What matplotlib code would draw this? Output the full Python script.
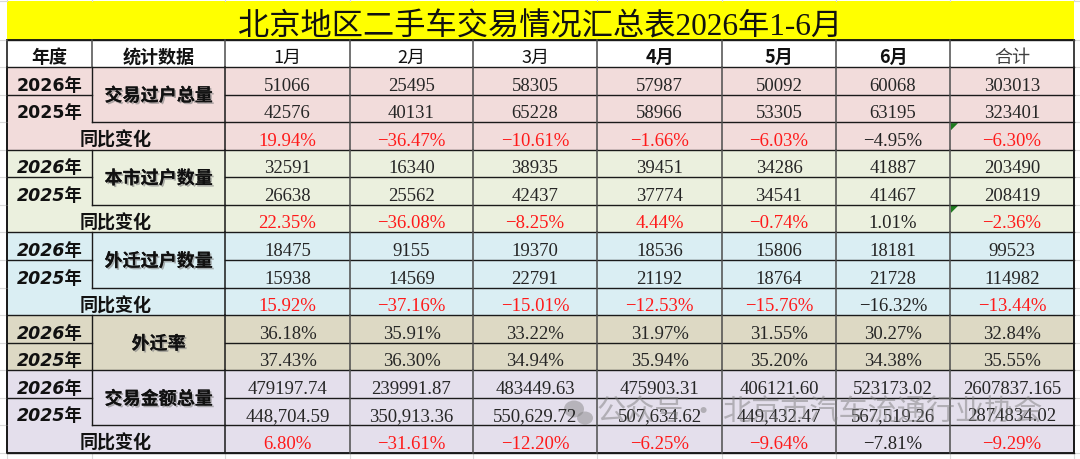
import matplotlib
matplotlib.use('Agg')
import matplotlib.pyplot as plt
from matplotlib.patches import Rectangle, Polygon, Ellipse
import matplotlib.patheffects as pe

# ---------------- data ----------------
title = '北京地区二手车交易情况汇总表2026年1-6月'
col_headers = ['年度', '统计数据', '1月', '2月', '3月', '4月', '5月', '6月', '合计']
header_weights = ['bold', 'bold', 'normal', 'normal', 'normal', 'bold', 'bold', 'bold', 'normal']
year_labels = ['2026年', '2025年']
yoy_label = '同比变化'
group_labels = ['交易过户总量', '本市过户数量', '外迁过户数量', '外迁率', '交易金额总量']

trans_2026 = [51066, 25495, 58305, 57987, 50092, 60068, 303013]
trans_2025 = [42576, 40131, 65228, 58966, 53305, 63195, 323401]
trans_yoy = [19.94, -36.47, -10.61, -1.66, -6.03, -4.95, -6.30]

local_2026 = [32591, 16340, 38935, 39451, 34286, 41887, 203490]
local_2025 = [26638, 25562, 42437, 37774, 34541, 41467, 208419]
local_yoy = [22.35, -36.08, -8.25, 4.44, -0.74, 1.01, -2.36]

out_2026 = [18475, 9155, 19370, 18536, 15806, 18181, 99523]
out_2025 = [15938, 14569, 22791, 21192, 18764, 21728, 114982]
out_yoy = [15.92, -37.16, -15.01, -12.53, -15.76, -16.32, -13.44]

rate_2026 = [36.18, 35.91, 33.22, 31.97, 31.55, 30.27, 32.84]
rate_2025 = [37.43, 36.30, 34.94, 35.94, 35.20, 34.38, 35.55]

amt_2026 = [479197.74, 239991.87, 483449.63, 475903.31, 406121.60, 523173.02, 2607837.165]
amt_2025 = [448704.59, 350913.36, 550629.72, 507634.62, 449432.47, 567519.26, 2874834.02]
amt_yoy = [6.80, -31.61, -12.20, -6.25, -9.64, -7.81, -9.29]

black_yoy_cols = [5]          # 6月 column printed in black
flag_cells = [(0, 6), (1, 6)]  # (group, col) with green corner triangle

group_colors = ['#F2DCDB', '#EBF0DE', '#DAEEF3', '#DDD9C4', '#E4DFEC']
italic_years = [False, True, True, True, True]

groups = [
    (trans_2026, trans_2025, trans_yoy, 'int'),
    (local_2026, local_2025, local_yoy, 'int'),
    (out_2026, out_2025, out_yoy, 'int'),
    (rate_2026, rate_2025, None, 'pct'),
    (amt_2026, amt_2025, amt_yoy, 'amt'),
]

# ---------------- layout ----------------
W, H = 1080, 460
col_edges = [7, 92, 225, 350, 473, 597, 722, 836, 950, 1074]
title_top, header_top, body_top, body_bot = 2, 41, 68, 454
n_rows = sum(3 if g[2] is not None else 2 for g in groups)
row_h = (body_bot - body_top) / n_rows

NUM_FONT = ['Liberation Serif', 'DejaVu Serif']
CJK = ['Noto Sans CJK SC', 'DejaVu Sans']
YEAR_FONT = ['DejaVu Sans', 'Noto Sans CJK SC']
TXT = '#262626'


def fmt(kind, v, idx, which):
    if kind == 'int':
        s = str(v)
    elif kind == 'pct':
        s = f'{v:.2f}%'
    else:
        if which == 0:
            s = f'{v:.3f}' if idx == 6 else f'{v:.2f}'
        else:
            s = f'{v:.2f}' if idx == 6 else f'{v:,.2f}'
    return s


def fmt_yoy(v):
    return f'{v:.2f}%'.replace('-', '−')


fig = plt.figure(figsize=(W / 100, H / 100), dpi=100)
ax = fig.add_axes([0, 0, 1, 1])
ax.set_xlim(0, W)
ax.set_ylim(H, 0)
ax.axis('off')

L, R = col_edges[0], col_edges[-1]
grid_c = '#D9D9D9'
# faint spreadsheet gridlines in the margins
for y in [title_top, header_top] + [body_top + i * row_h for i in range(n_rows + 1)]:
    ax.plot([0, L], [y, y], color=grid_c, lw=0.8)
    ax.plot([R, W], [y, y], color=grid_c, lw=0.8)
for x in col_edges:
    ax.plot([x, x], [body_bot, H], color=grid_c, lw=0.8)
    ax.plot([x, x], [0, title_top], color=grid_c, lw=0.8)

# title band
ax.add_patch(Rectangle((L, title_top), R - L, header_top - title_top, facecolor='#FFFF00', edgecolor='none'))
ax.text((L + R) / 2, 35, title, fontsize=22.5, family=['Liberation Serif', 'Noto Sans CJK SC'],
        ha='center', va='baseline', color='#111111')
# header band
ax.add_patch(Rectangle((L, header_top), R - L, body_top - header_top, facecolor='white', edgecolor='none'))
for j, (h, wgt) in enumerate(zip(col_headers, header_weights)):
    cx = (col_edges[j] + col_edges[j + 1]) / 2
    ax.text(cx, body_top - 5, h, fontsize=13, family=CJK, weight=wgt,
            ha='center', va='baseline', color='#111111' if j < 8 else '#404040')

line_c = '#1a1a1a'
vline_c = '#4d4d4d'
ax.plot([L, R], [header_top, header_top], color=line_c, lw=1.0)
ax.plot([L, R], [body_top, body_top], color=line_c, lw=1.0)
for x in col_edges:
    ax.plot([x, x], [header_top, body_top], color=vline_c, lw=1.1)

shadow = [pe.withSimplePatchShadow(offset=(1.2, -1.2), shadow_rgbFace='#808080', alpha=0.6), pe.Normal()]

r = 0
for gi, (cur, prev, yoy, kind) in enumerate(groups):
    nr = 3 if yoy is not None else 2
    y0 = body_top + r * row_h
    y1 = y0 + nr * row_h
    ax.add_patch(Rectangle((L, y0), R - L, nr * row_h, facecolor=group_colors[gi], edgecolor='none'))
    # year rows
    for k, vals in enumerate([cur, prev]):
        ya = y0 + k * row_h
        yb = ya + row_h
        ax.text((col_edges[0] + col_edges[1]) / 2, yb - 5, year_labels[k], fontsize=12.5,
                family=YEAR_FONT, weight='bold', style='italic' if italic_years[gi] else 'normal',
                ha='center', va='baseline', color='#111111')
        for j, v in enumerate(vals):
            cx = (col_edges[j + 2] + col_edges[j + 3]) / 2
            ax.text(cx, yb - 5, fmt(kind, v, j, k), fontsize=13.5, family=NUM_FONT,
                    ha='center', va='baseline', color=TXT)
    # group label (merged over two rows)
    ax.text((col_edges[1] + col_edges[2]) / 2, y0 + row_h + 1, group_labels[gi], fontsize=13,
            family=CJK, weight='bold', ha='center', va='center', color='#111111', path_effects=shadow)
    # year-over-year row
    if yoy is not None:
        ya = y0 + 2 * row_h
        yb = ya + row_h
        ax.text((col_edges[0] + col_edges[2]) / 2, yb - 5, yoy_label, fontsize=13, family=CJK,
                weight='bold', ha='center', va='baseline', color='#111111')
        for j, v in enumerate(yoy):
            cx = (col_edges[j + 2] + col_edges[j + 3]) / 2
            col = '#222222' if j in black_yoy_cols else '#FF1A1A'
            ax.text(cx, yb - 5, fmt_yoy(v), fontsize=13.5, family=NUM_FONT,
                    ha='center', va='baseline', color=col)
            if (gi, j) in flag_cells:
                x0 = col_edges[j + 2] + 1
                ax.add_patch(Polygon([(x0, ya + 1), (x0 + 7, ya + 1), (x0, ya + 8)],
                                     closed=True, facecolor='#1E7B1E', edgecolor='none'))
    # grid lines for the group
    ax.plot([L, R], [y1, y1], color=line_c, lw=1.0)
    for k in range(1, nr):
        yk = y0 + k * row_h
        ax.plot([col_edges[2], R], [yk, yk], color=line_c, lw=1.0)
    ax.plot([col_edges[0], col_edges[1]], [y0 + row_h, y0 + row_h], color=line_c, lw=1.0)
    if nr == 3:
        ax.plot([col_edges[1], col_edges[2]], [y0 + 2 * row_h, y0 + 2 * row_h], color=line_c, lw=1.0)
    for ci, x in enumerate(col_edges):
        if ci == 1:
            ax.plot([x, x], [y0, y0 + 2 * row_h], color=line_c, lw=1.0)
        else:
            ax.plot([x, x], [y0, y1], color=vline_c if 2 < ci < 9 else line_c, lw=1.1)
    r += nr

# outer border
ax.add_patch(Rectangle((L, header_top), R - L, body_bot - header_top, facecolor='none',
                       edgecolor='#111111', lw=1.3))

# watermark (overlays the table in the reference)
wm_c = '#7f7f7f'
ax.add_patch(Ellipse((574, 410), 20, 17, facecolor=wm_c, alpha=0.45, edgecolor='none'))
ax.add_patch(Ellipse((585, 419), 16, 13, facecolor=wm_c, alpha=0.45, edgecolor='none'))
ax.text(597, 413, '公众号', fontsize=21, family=CJK, color=wm_c, alpha=0.5, ha='left', va='center')
ax.text(703, 413, '·', fontsize=21, family=CJK, color=wm_c, alpha=0.5, ha='center', va='center')
ax.text(722, 413, '北京市汽车流通行业协会', fontsize=21, family=CJK, color=wm_c, alpha=0.5,
        ha='left', va='center')

fig.savefig('out.png', dpi=100, facecolor='white')
